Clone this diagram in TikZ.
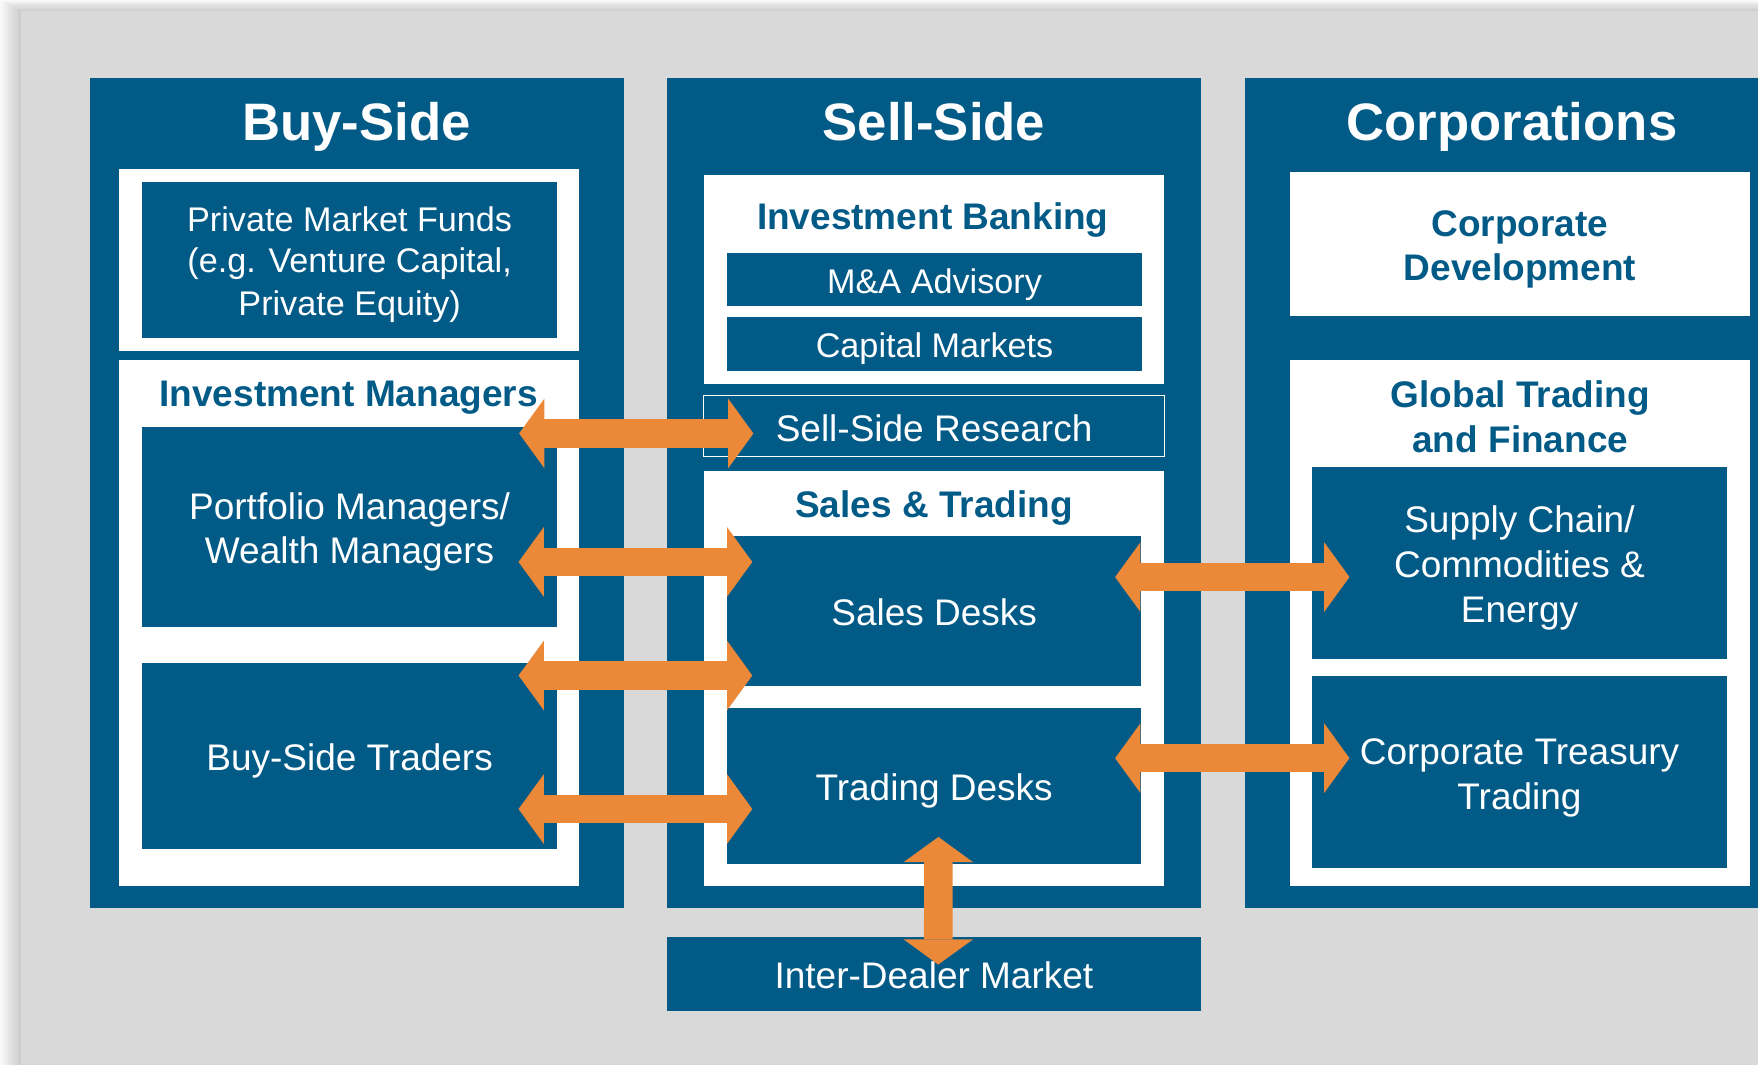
\documentclass[tikz,border=0pt]{standalone}
\usepackage{fontspec}
\setmainfont{Liberation Sans}
\usetikzlibrary{arrows.meta,calc}
\definecolor{cblue}{RGB}{2,90,135}
\definecolor{corange}{RGB}{236,137,57}
\definecolor{cgray}{RGB}{217,217,217}
\newcommand\vs{\vrule width 0pt height 1.0em depth 0.2em\relax}
\begin{document}
\begin{tikzpicture}[x=1pt,y=-1pt,
  every node/.style={inner sep=0pt,outer sep=0pt},
  colbox/.style={fill=cblue},
  wbox/.style={fill=white},
  dbox/.style={fill=cblue,text=white,align=center,font=\fontsize{33}{40}\selectfont},
  dsmall/.style={dbox,font=\fontsize{30.5}{36.7}\selectfont},
  ttl/.style={text=white,anchor=base,font=\fontsize{47}{56}\selectfont\bfseries},
  hdr/.style={text=cblue,align=center,font=\fontsize{33}{40}\selectfont\bfseries},
  tipx/.tip={Triangle[length=22.5pt,width=62pt,line width=0pt]},
  darr/.style={draw=corange,line width=25.5pt,tipx-tipx}
]
\useasboundingbox (0,0) rectangle (1568,950);
% page and soft shadow
\fill[white] (0,0) rectangle (1568,950);
\foreach \i in {1,...,10}
  \fill[black,opacity=0.018] ({18.7-1.9*\i},{9.8-1.0*\i}) rectangle (1568,950);
\fill[cgray] (18.7,9.8) rectangle (1568,950);

% columns
\node[colbox,minimum width=476.5pt,minimum height=740pt] (buy) at (318.25,439.5) {};
\node[colbox,minimum width=476pt,minimum height=740pt] (sell) at (833,439.5) {};
\node[colbox,minimum width=457.5pt,minimum height=740pt] (corp) at (1339.25,439.5) {};

\node[ttl] (tbuy) at (318,125) {Buy-Side};
\node[ttl] (tsell) at (833,125) {Sell-Side};
\node[ttl] (tcorp) at (1348.5,125) {Corporations};

% Buy-side
\node[wbox,minimum width=410.4pt,minimum height=162pt] (pmfw) at (311.2,231.75) {};
\node[dsmall,minimum width=370.3pt,minimum height=139.2pt] (pmf) at (311.85,231.9)
  {\vs Private Market Funds\\(e.g. Venture Capital,\\Private Equity)\vs};
\node[wbox,minimum width=410.2pt,minimum height=469.2pt] (imw) at (311.3,555.6) {};
\node[hdr,anchor=base] (imt) at (311,362.3) {Investment Managers};
\node[dbox,minimum width=370.4pt,minimum height=177.9pt] (pm) at (311.8,469.95)
  {\vs Portfolio Managers/\\Wealth Managers\vs};
\node[dbox,minimum width=370.4pt,minimum height=165.5pt] (bst) at (311.8,674.05)
  {\vs Buy-Side Traders\vs};

% Sell-side
\node[wbox,minimum width=410pt,minimum height=186pt] (ibw) at (832.8,249.1) {};
\node[hdr,anchor=base] (ibt) at (832,205) {Investment Banking};
\node[dsmall,minimum width=370.1pt,minimum height=47.8pt] (ma) at (833.55,249.4) {\vs M\&A Advisory\vs};
\node[dsmall,minimum width=370.1pt,minimum height=47.8pt] (cm) at (833.55,306.7) {\vs Capital Markets\vs};
\node[dbox,draw=white,line width=1pt,minimum width=410.7pt,minimum height=54.5pt] (ssr) at (833.15,380.15)
  {\vs Sell-Side Research\vs};
\node[wbox,minimum width=410pt,minimum height=369.7pt] (stw) at (832.8,604.95) {};
\node[hdr,anchor=base] (stt) at (833,461.8) {Sales \& Trading};
\node[dbox,minimum width=369.6pt,minimum height=133.3pt] (sd) at (833.2,545.05) {\vs Sales Desks\vs};
\node[dbox,minimum width=369.6pt,minimum height=138.8pt] (td) at (833.2,700.9) {\vs Trading Desks\vs};
\node[dbox,minimum width=476pt,minimum height=66.4pt] (idm) at (833,868.8) {\vs Inter-Dealer Market\vs};

% Corporations
\node[wbox,hdr,minimum width=410.2pt,minimum height=128.2pt] (cd) at (1355.7,217.5)
  {\vs Corporate\\Development\vs};
\node[wbox,minimum width=410.2pt,minimum height=468.7pt] (gtw) at (1355.7,555.45) {};
\node[hdr] (gtt) at (1356,370.5) {\vs Global Trading\\and Finance\vs};
\node[dbox,minimum width=370.5pt,minimum height=171.3pt] (sc) at (1355.25,501.95)
  {\vs Supply Chain/\\Commodities \&\\Energy\vs};
\node[dbox,minimum width=370.5pt,minimum height=170.8pt] (ct) at (1355.25,688.5)
  {\vs Corporate Treasury\\Trading\vs};

% arrows
\coordinate (y1) at (0,386.6);
\coordinate (y2) at (0,501.2);
\coordinate (y3) at (0,602.5);
\coordinate (y4) at (0,721.6);
\coordinate (y5) at (0,514.7);
\coordinate (y6) at (0,676.2);
\draw[darr] ($(pm.east |- y1)+(-34,0)$) -- ($(ssr.west |- y1)+(44.2,0)$);
\draw[darr] ($(pm.east |- y2)+(-34.5,0)$) -- ($(sd.west |- y2)+(22.6,0)$);
\draw[darr] ($(bst.east |- y3)+(-34.5,0)$) -- ($(sd.west |- y3)+(22.6,0)$);
\draw[darr] ($(bst.east |- y4)+(-34.5,0)$) -- ($(td.west |- y4)+(22.6,0)$);
\draw[darr] ($(sd.east |- y5)+(-23.4,0)$) -- ($(sc.west |- y5)+(33.6,0)$);
\draw[darr] ($(td.east |- y6)+(-23.4,0)$) -- ($(ct.west |- y6)+(33.6,0)$);
\draw[darr] ([xshift=3.8pt,yshift=23.8pt]td.south) -- ([xshift=3.8pt,yshift=-24.7pt]idm.north);
\end{tikzpicture}
\end{document}
